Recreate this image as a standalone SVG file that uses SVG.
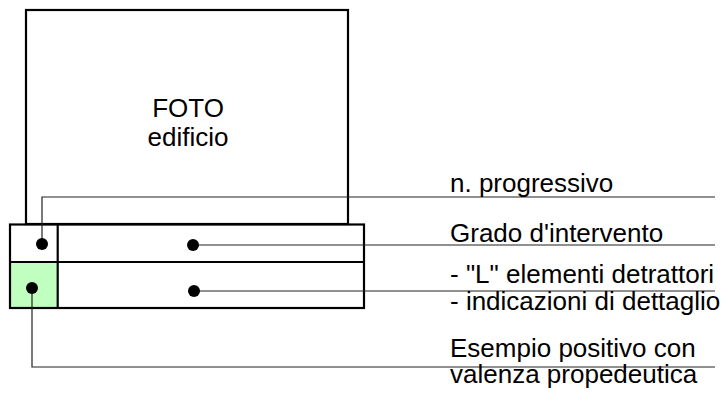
<svg xmlns="http://www.w3.org/2000/svg" width="726" height="398" viewBox="0 0 726 398">
<style>
.box{fill:none;stroke:#000;stroke-width:2.2}
.ln{fill:none;stroke:#222;stroke-width:1.2}
.dot{fill:#000}
text{font-family:"Liberation Sans",Arial,sans-serif;font-size:26px;fill:#000}
.lbl{font-size:26px}
</style>
<rect width="726" height="398" fill="#fff"/>
<g id="foto">
<rect class="box" x="26" y="10" width="322" height="214" fill="#fff"/>
<text x="188" y="117" text-anchor="middle">FOTO</text>
<text x="188" y="146" text-anchor="middle">edificio</text>
</g>
<g id="scheda">
<rect x="10" y="262" width="47.7" height="46" fill="#c0ffc0"/>
<rect class="box" x="10" y="224.5" width="354" height="83.5"/>
<line class="box" x1="10" y1="262" x2="364" y2="262"/>
<line class="box" x1="57.7" y1="224.5" x2="57.7" y2="308"/>
</g>
<g id="connectors">
<polyline class="ln" points="42,244 42,197 715,197"/>
<polyline class="ln" points="193,245 715,245"/>
<polyline class="ln" points="194,291 715,291"/>
<polyline class="ln" points="32,288 32,367 715,367"/>
<circle class="dot" cx="42" cy="244" r="6"/>
<circle class="dot" cx="193" cy="245" r="6"/>
<circle class="dot" cx="32" cy="288" r="6"/>
<circle class="dot" cx="194" cy="291" r="6"/>
</g>
<g id="labels">
<text class="lbl" x="450" y="192">n. progressivo</text>
<text class="lbl" x="450" y="242">Grado d'intervento</text>
<text class="lbl" x="450" y="283">- "L" elementi detrattori</text>
<text class="lbl" x="450" y="310">- indicazioni di dettaglio</text>
<text class="lbl" x="450" y="357">Esempio positivo con</text>
<text class="lbl" x="450" y="383">valenza propedeutica</text>
</g>
</svg>
